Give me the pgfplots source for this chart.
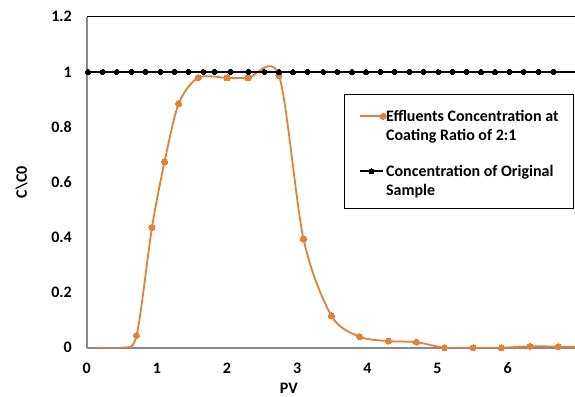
\documentclass[border=0pt]{standalone}
\usepackage{fontspec}
\setmainfont{Carlito}
\usepackage{pgfplots}
\pgfplotsset{compat=1.18}
\definecolor{exorange}{HTML}{ED7D31}
\definecolor{axgray}{HTML}{898989}
\newcommand\fnt{\bfseries\fontsize{16}{19}\selectfont}
\newcommand\legtwo[2]{{\renewcommand\arraystretch{1.037}\begin{tabular}[t]{@{}l@{}}#1\\#2\end{tabular}}}
\begin{document}
\begin{tikzpicture}
\begin{axis}[
  name=ax,
  set layers,
  scale only axis,
  width=488.3pt, height=331pt,
  xmin=0, xmax=6.96, ymin=0, ymax=1.2,
  xtick={0,1,2,3,4,5,6},
  ytick={0,0.2,0.4,0.6,0.8,1,1.2},
  major tick length=0pt,
  axis x line*=bottom, axis y line*=left,
  axis line style={-, axgray, line width=1.6pt},
  /pgf/number format/assume math mode=true,
  ticklabel style={font=\fnt, inner sep=0pt},
  xticklabel style={anchor=north, yshift=-15pt},
  yticklabel style={anchor=east, xshift=-14.7pt},
  xlabel={PV},
  xlabel style={font=\fnt, inner sep=0pt, at={(rel axis cs:0.414,0)}, anchor=north, yshift=-35pt},
  ylabel={C\textbackslash C0},
  ylabel style={font=\fnt, inner sep=0pt, at={(rel axis cs:0,0.5)}, anchor=center, yshift=65pt},
  legend cell align=left,
  legend image code/.code={\draw[mark repeat=2,mark phase=2,#1] plot coordinates {(0pt,5pt) (11.5pt,5pt) (23pt,5pt)};},
  legend style={at={(rel axis cs:0.998,0.7656)}, anchor=north east, draw=black, line width=1pt,
    font=\fnt, inner xsep=15pt, inner ysep=10.6pt, row sep=17.3pt, column sep=0pt,
    nodes={anchor=base west, inner sep=0pt, text height=15.8pt, text depth=22pt}},
]
\addplot[exorange, line width=1.8pt, smooth, tension=0.5,
  mark=*, mark size=3pt, mark options={fill=exorange, draw=exorange, line width=0pt},
  mark indices={3,4,5,6,7,8,9,10,11,12,13,14,15,16,17,18,19,20}]
coordinates {
(0.12,0) (0.50,0) (0.71,0.044) (0.93,0.435) (1.11,0.674) (1.31,0.884)
(1.59,0.979) (2.00,0.978) (2.30,0.978) (2.74,0.987) (3.09,0.394) (3.49,0.115)
(3.89,0.040) (4.30,0.024) (4.70,0.020) (5.10,0.000) (5.51,0.000) (5.91,0.000)
(6.32,0.005) (6.72,0.004) (7.13,0.002)
};
\addlegendentry{\legtwo{Effluents Concentration at}{Coating Ratio of 2:1}}
\addplot[black, line width=1.6pt,
  mark=*, mark size=2.6pt, mark options={fill=black, line width=0pt}]
coordinates {
(0.02,1) (0.23,1) (0.43,1) (0.64,1) (0.84,1) (1.05,1) (1.25,1) (1.45,1)
(1.66,1) (1.82,1) (2.05,1) (2.31,1) (2.53,1) (2.74,1) (2.94,1) (3.15,1)
(3.37,1) (3.57,1) (3.78,1) (3.98,1) (4.19,1) (4.39,1) (4.60,1) (4.80,1)
(5.01,1) (5.21,1) (5.41,1) (5.62,1) (5.82,1) (6.03,1) (6.23,1) (6.44,1)
(6.65,1) (7.10,1)
};
\addlegendentry{\legtwo{Concentration of Original}{Sample}}
\end{axis}
\draw[black, line width=1.4pt] (ax.north west) -- (ax.north east);
\pgfresetboundingbox
\path ([xshift=-86.7pt,yshift=-48.3pt]ax.south west) rectangle ([yshift=16.7pt]ax.north east);
\end{tikzpicture}
\end{document}
